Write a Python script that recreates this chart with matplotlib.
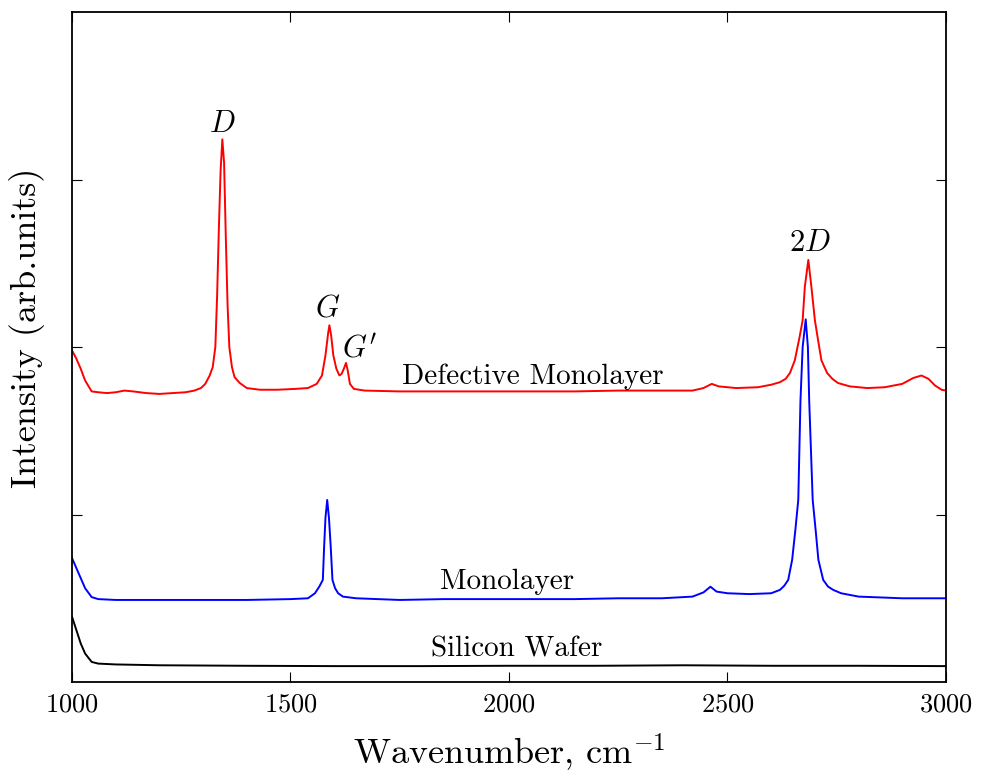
import matplotlib
matplotlib.use("Agg")
import matplotlib.pyplot as plt

defect_x = [1000, 1010, 1020, 1030, 1045, 1060, 1080, 1100, 1120, 1140, 1170, 1200,
            1230, 1260, 1280, 1295, 1305, 1315, 1322, 1328, 1332, 1336, 1340, 1344,
            1348, 1352, 1356, 1360, 1366, 1372, 1384, 1400, 1430, 1470, 1510, 1540,
            1560, 1572, 1580, 1586, 1589, 1593, 1598, 1605, 1612, 1617, 1622, 1627,
            1631, 1636, 1645, 1670, 1750, 1850, 1950, 2050, 2150, 2250, 2350, 2420,
            2445, 2464, 2480, 2520, 2570, 2600, 2620, 2633, 2643, 2654, 2665, 2672,
            2677, 2685, 2692, 2700, 2708, 2715, 2728, 2740, 2753, 2780, 2820, 2860,
            2900, 2925, 2944, 2960, 2975, 2990, 3000]
defect_y = [1.98, 1.93, 1.87, 1.80, 1.735, 1.73, 1.725, 1.73, 1.74, 1.735, 1.725, 1.72,
            1.725, 1.73, 1.74, 1.755, 1.78, 1.83, 1.88, 2.00, 2.30, 2.70, 3.05, 3.24,
            3.10, 2.65, 2.25, 2.00, 1.88, 1.82, 1.785, 1.755, 1.745, 1.745, 1.75, 1.755,
            1.78, 1.83, 1.95, 2.08, 2.13, 2.07, 1.95, 1.87, 1.83, 1.84, 1.87, 1.905,
            1.86, 1.78, 1.75, 1.74, 1.735, 1.735, 1.735, 1.735, 1.735, 1.74, 1.74, 1.74,
            1.755, 1.78, 1.765, 1.755, 1.76, 1.775, 1.79, 1.81, 1.845, 1.92, 2.06, 2.16,
            2.36, 2.52, 2.36, 2.16, 2.03, 1.92, 1.845, 1.81, 1.785, 1.765, 1.755, 1.76,
            1.78, 1.815, 1.83, 1.81, 1.77, 1.745, 1.74]

mono_x = [1000, 1010, 1020, 1030, 1045, 1060, 1100, 1200, 1300, 1400, 1500, 1540,
          1556, 1566, 1574, 1577, 1580, 1584, 1588, 1592, 1596, 1602, 1609, 1620,
          1650, 1750, 1850, 1950, 2050, 2150, 2250, 2350, 2420, 2445, 2461, 2475,
          2500, 2550, 2600, 2620, 2630, 2639, 2648, 2655, 2662, 2667, 2672, 2679,
          2684, 2687, 2695, 2702, 2708, 2719, 2730, 2742, 2760, 2800, 2850, 2900,
          2950, 3000]
mono_y = [0.74, 0.68, 0.62, 0.56, 0.507, 0.495, 0.49, 0.49, 0.49, 0.49, 0.495, 0.50,
          0.53, 0.57, 0.61, 0.81, 0.98, 1.087, 0.98, 0.81, 0.61, 0.56, 0.53, 0.51,
          0.50, 0.49, 0.495, 0.495, 0.495, 0.495, 0.50, 0.50, 0.51, 0.535, 0.569, 0.54,
          0.53, 0.525, 0.53, 0.55, 0.575, 0.61, 0.73, 0.90, 1.087, 1.68, 2.00, 2.165,
          2.00, 1.68, 1.087, 0.90, 0.73, 0.61, 0.57, 0.55, 0.53, 0.51, 0.505, 0.50,
          0.50, 0.50]

si_x = [1000, 1010, 1020, 1030, 1045, 1060, 1100, 1200, 1400, 1600, 1800, 2000,
        2200, 2400, 2600, 2800, 3000]
si_y = [0.39, 0.31, 0.23, 0.17, 0.12, 0.11, 0.105, 0.10, 0.097, 0.095, 0.095, 0.097,
        0.097, 0.10, 0.097, 0.097, 0.095]

# peak names and curve captions
peak_labels = [r'$D$', r'$G$', r"$G'$", r'$2D$']
peak_x = [1344, 1586, 1659, 2689]
peak_y = [3.33, 2.23, 1.99, 2.62]
curve_labels = ['Defective Monolayer', 'Monolayer', 'Silicon Wafer']
curve_lx = [2055, 1995, 2018]
curve_ly = [1.82, 0.60, 0.197]

plt.rcParams['font.family'] = 'serif'
plt.rcParams['font.serif'] = ['cmr10']
plt.rcParams['mathtext.fontset'] = 'cm'
plt.rcParams['axes.unicode_minus'] = False
plt.rcParams['axes.formatter.use_mathtext'] = True

fig = plt.figure(figsize=(9.81, 7.76), dpi=100)
ax = fig.add_axes([0.0734, 0.1211, 0.8909, 0.8634])

ax.plot(defect_x, defect_y, color='red', lw=1.4)
ax.plot(mono_x, mono_y, color='blue', lw=1.4)
ax.plot(si_x, si_y, color='black', lw=1.4)

for s, x, y in zip(peak_labels, peak_x, peak_y):
    ax.text(x, y, s, fontsize=22, ha='center', va='center')
for s, x, y in zip(curve_labels, curve_lx, curve_ly):
    ax.text(x, y, s, fontsize=21, ha='center', va='center')

ax.set_xlim(1000, 3000)
ax.set_ylim(0, 4)
ax.set_xticks([1000, 1500, 2000, 2500, 3000])
ax.set_yticks([1, 2, 3])
ax.set_yticklabels([])
ax.tick_params(direction='in', top=True, right=True, length=7, width=0.8,
               labelsize=19, pad=8)
for sp in ax.spines.values():
    sp.set_linewidth(1.3)

ax.set_xlabel(r'Wavenumber, cm$^{-1}$', fontsize=26, labelpad=10)
ax.set_ylabel('Intensity (arb.units)', fontsize=26)
ax.yaxis.set_label_coords(-0.031, 0.528)

fig.savefig('out.png', dpi=100)
